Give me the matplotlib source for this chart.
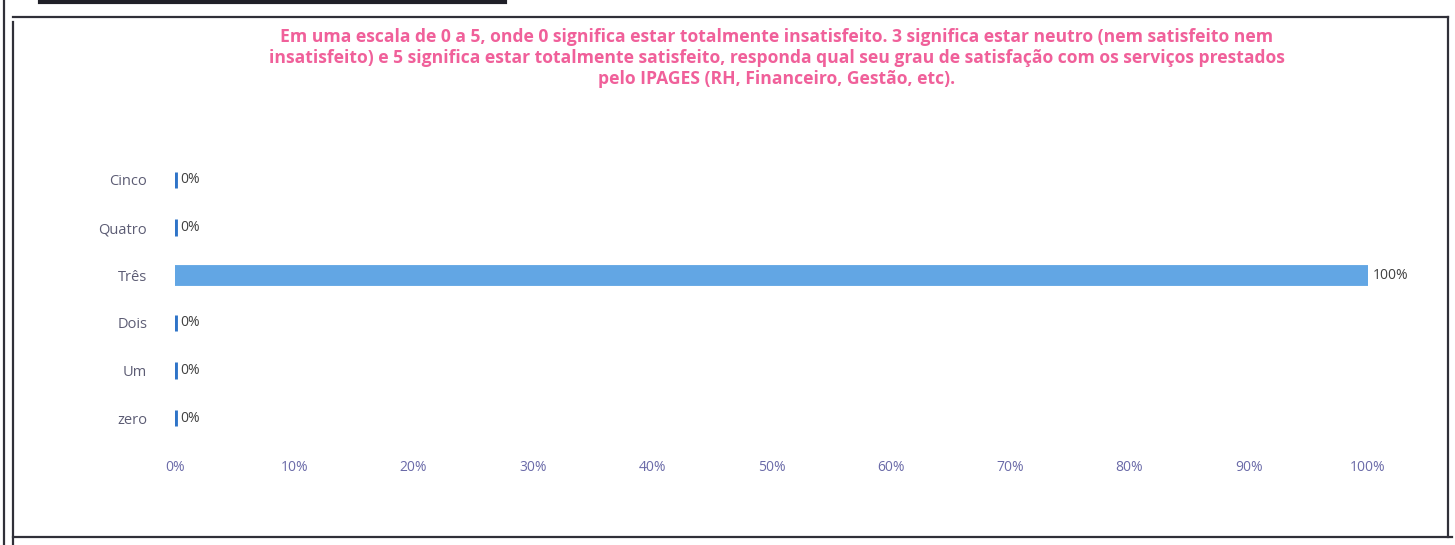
import numpy as np
import matplotlib.pyplot as plt
from matplotlib.lines import Line2D

# --- data ---
categories = ['zero', 'Um', 'Dois', 'Três', 'Quatro', 'Cinco']
shares = [0.0, 0.0, 0.0, 1.0, 0.0, 0.0]
xticks = [0, 0.1, 0.2, 0.3, 0.4, 0.5, 0.6, 0.7, 0.8, 0.9, 1.0]
title = ('Em uma escala de 0 a 5, onde 0 significa estar totalmente insatisfeito. '
         '3 significa estar neutro (nem satisfeito nem\n'
         'insatisfeito) e 5 significa estar totalmente satisfeito, responda qual '
         'seu grau de satisfação com os serviços prestados\n'
         'pelo IPAGES (RH, Financeiro, Gestão, etc).')

W, H = 1455, 545
fig = plt.figure(figsize=(W / 100, H / 100), dpi=100)
fig.patch.set_facecolor('white')

font = ['Open Sans', 'DejaVu Sans']

ax = fig.add_axes([175 / W, 1 - 442 / H, 1193 / W, 286 / H])
y = np.arange(len(categories))
# zero-length bars only show their dark edge, like the original Excel chart
edges = ['#2f74c8' if v == 0 else '#62a6e4' for v in shares]
ax.barh(y, shares, height=0.34, color='#62a6e4', edgecolor=edges,
        linewidth=3.5)

for yi, v in zip(y, shares):
    ax.text(v + 0.004, yi, f'{v:.0%}', va='center', ha='left',
            fontsize=10, color='#404040', family=font)

ax.set_xlim(0, 1)
ax.set_ylim(-0.5, len(categories) - 0.5)
ax.set_yticks(y)
ax.set_yticklabels(categories, family=font, fontsize=10.5, color='#5c5c74')
ax.set_xticks(xticks)
ax.set_xticklabels([f'{t:.0%}' for t in xticks], family=font,
                   fontsize=10, color='#6a6aa8')
ax.tick_params(axis='y', length=0, pad=20)
ax.tick_params(axis='x', length=0, pad=13)
for s in ax.spines.values():
    s.set_visible(False)

fig.text(777 / W, 1 - 28 / H, title, ha='center', va='top', fontsize=12.6,
         fontweight='bold', color='#f0609a', family=font, linespacing=1.22)

# scanned page frame
frame = dict(color='#303038', linewidth=1.6)
fig.add_artist(Line2D([13 / W, 1448 / W], [1 - 17 / H, 1 - 17 / H], **frame))
fig.add_artist(Line2D([1448 / W, 1448 / W], [1 - 17 / H, 1 - 537 / H], **frame))
fig.add_artist(Line2D([13 / W, 1452 / W], [1 - 537 / H, 1 - 537 / H], **frame))
fig.add_artist(Line2D([13 / W, 13 / W], [1 - 22 / H, 1 - 545 / H], **frame))
fig.add_artist(Line2D([4 / W, 4 / W], [1, 0], **frame))
fig.add_artist(Line2D([40 / W, 505 / W], [1 - 2 / H, 1 - 2 / H],
                      color='#202028', linewidth=3))

fig.savefig('out.png', dpi=100)
